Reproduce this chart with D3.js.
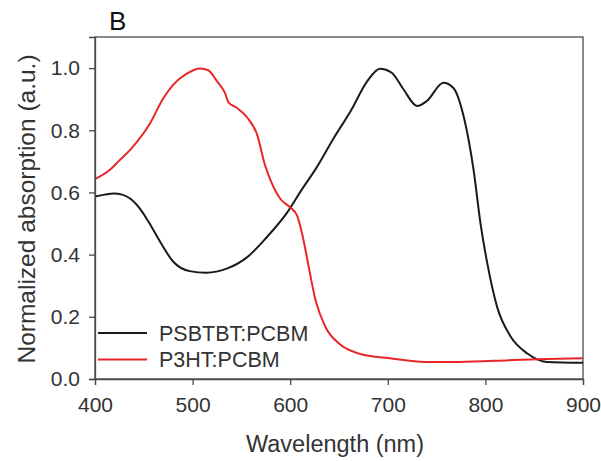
<!DOCTYPE html>
<html>
<head>
<meta charset="utf-8">
<script src="https://cdn.jsdelivr.net/npm/d3@7"></script>
<style>
  body { margin: 0; background: #fff; }
  svg text { font-family: "Liberation Sans", Arial, sans-serif; fill: #333; }
</style>
</head>
<body>
<div id="chart"></div>
<script>
var width = 601,
    height = 461,
    margin = {top: 37, right: 18, bottom: 82, left: 95};

// PSBTBT:PCBM spectrum (wavelength nm, normalized absorption)
var psbtbtWl = [400, 410, 419, 428, 437, 446, 455, 467, 480, 497, 514, 535, 556, 576, 597, 612, 626, 645, 662, 679, 692, 704, 716, 730, 740, 757, 767, 778, 788, 795, 802, 812, 826, 843, 863, 900];
var psbtbtAbs = [0.587, 0.593, 0.597, 0.593, 0.578, 0.548, 0.505, 0.44, 0.378, 0.347, 0.342, 0.355, 0.392, 0.456, 0.536, 0.61, 0.675, 0.777, 0.862, 0.958, 0.998, 0.985, 0.932, 0.878, 0.894, 0.953, 0.937, 0.841, 0.67, 0.5, 0.371, 0.232, 0.136, 0.082, 0.055, 0.052];

// P3HT:PCBM spectrum
var p3htWl = [400, 415, 424, 436, 456, 470, 480, 494, 508, 516, 525, 533, 537, 545, 556, 566, 574, 580, 590, 600, 607, 613, 619, 626, 636, 650, 670, 704, 738, 773, 829, 863, 900];
var p3htAbs = [0.643, 0.672, 0.7, 0.737, 0.82, 0.903, 0.946, 0.982, 0.999, 0.993, 0.958, 0.921, 0.889, 0.873, 0.841, 0.787, 0.69, 0.638, 0.579, 0.552, 0.526, 0.456, 0.36, 0.253, 0.168, 0.114, 0.082, 0.066, 0.055, 0.055, 0.061, 0.064, 0.067];

var xTicks = [400, 500, 600, 700, 800, 900];
var yTicks = [0.0, 0.2, 0.4, 0.6, 0.8, 1.0];

var series = [
  {name: "PSBTBT:PCBM", color: "#1a1a1a", wl: psbtbtWl, abs: psbtbtAbs},
  {name: "P3HT:PCBM", color: "#e8262a", wl: p3htWl, abs: p3htAbs}
];

var svg = d3.select("#chart").append("svg")
    .attr("width", width)
    .attr("height", height);

var innerW = width - margin.left - margin.right,
    innerH = height - margin.top - margin.bottom;

var x = d3.scaleLinear().domain([400, 900]).range([0, innerW]);
var y = d3.scaleLinear().domain([0, 1.1]).range([innerH, 0]);

var g = svg.append("g")
    .attr("transform", "translate(" + margin.left + "," + margin.top + ")");

// frame
g.append("rect")
    .attr("width", innerW)
    .attr("height", innerH)
    .attr("fill", "none")
    .attr("stroke", "#4a4a4a")
    .attr("stroke-width", 1.3);

var line = d3.line()
    .x(function(d) { return x(d[0]); })
    .y(function(d) { return y(d[1]); })
    .curve(d3.curveMonotoneX);

series.forEach(function(s) {
  var pts = s.wl.map(function(w, i) { return [w, s.abs[i]]; });
  g.append("path")
      .datum(pts)
      .attr("fill", "none")
      .attr("stroke", s.color)
      .attr("stroke-width", 2)
      .attr("d", line);
});

var xAxis = g.append("g")
    .attr("transform", "translate(0," + innerH + ")")
    .call(d3.axisBottom(x).tickValues(xTicks).tickSize(6).tickPadding(12).tickFormat(d3.format("d")));

var yAxis = g.append("g")
    .call(d3.axisLeft(y).tickValues(yTicks).tickSize(6).tickPadding(9).tickFormat(d3.format(".1f")));

[xAxis, yAxis].forEach(function(a) {
  a.select(".domain").attr("stroke", "#4a4a4a").attr("stroke-width", 1.3);
  a.selectAll(".tick line").attr("stroke", "#4a4a4a").attr("stroke-width", 1.3);
  a.selectAll(".tick text")
      .attr("font-size", 21)
      .attr("font-family", "Liberation Sans, Arial, sans-serif")
      .attr("fill", "#333");
});

// axis titles
svg.append("text")
    .attr("x", 335)
    .attr("y", 452)
    .attr("text-anchor", "middle")
    .attr("font-size", 23.5)
    .text("Wavelength (nm)");

svg.append("text")
    .attr("transform", "translate(35,209) rotate(-90)")
    .attr("text-anchor", "middle")
    .attr("font-size", 24.5)
    .text("Normalized absorption (a.u.)");

// panel letter
svg.append("text")
    .attr("x", 109)
    .attr("y", 30)
    .attr("font-size", 26)
    .attr("font-family", "Open Sans, sans-serif")
    .style("fill", "#111")
    .text("B");

// legend
var legend = g.append("g").attr("transform", "translate(3," + (innerH - 46) + ")");
series.forEach(function(s, i) {
  var row = legend.append("g").attr("transform", "translate(0," + i * 26.5 + ")");
  row.append("line")
      .attr("x1", 0).attr("x2", 49)
      .attr("stroke", s.color)
      .attr("stroke-width", 2);
  row.append("text")
      .attr("x", 61)
      .attr("y", 0)
      .attr("dy", "0.36em")
      .attr("font-size", 21.5)
      .text(s.name);
});
</script>
</body>
</html>
